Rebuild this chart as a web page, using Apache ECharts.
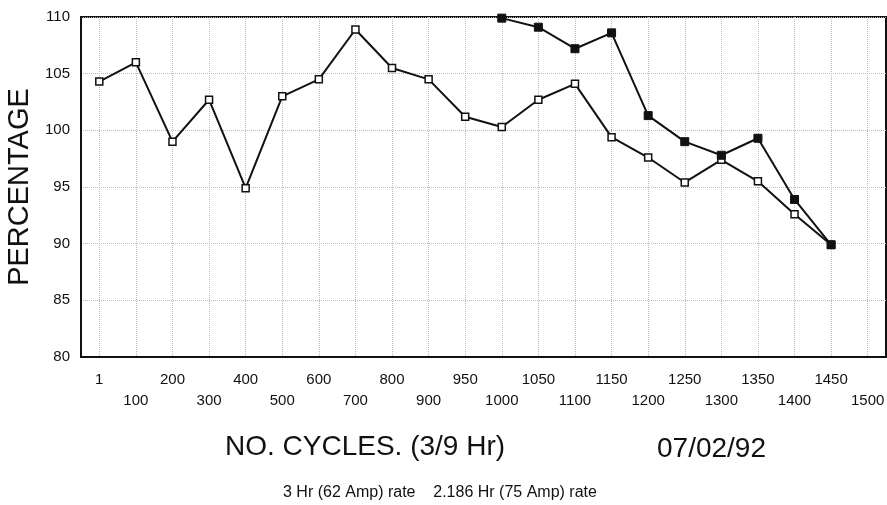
<!DOCTYPE html>
<html>
<head>
<meta charset="utf-8">
<script src="https://cdn.jsdelivr.net/npm/echarts@6/dist/echarts.min.js"></script>
<style>
html, body { margin: 0; padding: 0; background: #fff; }
#chart { width: 887px; height: 505px; }
</style>
</head>
<body>
<div id="chart"></div>
<script>
// cycles on the x axis (category labels)
var cycles = ['1','100','200','300','400','500','600','700','800','900','950',
	'1000','1050','1100','1150','1200','1250','1300','1350','1400','1450','1500'];
// 3 Hr (62 Amp) rate - open squares
var rate62 = [104.3, 106.0, 99.0, 102.7, 94.9, 103.0, 104.5, 108.9, 105.5, 104.5, 101.2,
	100.3, 102.7, 104.1, 99.4, 97.6, 95.4, 97.4, 95.5, 92.6, 89.9, null];
// 2.186 Hr (75 Amp) rate - filled squares
var rate75 = [null, null, null, null, null, null, null, null, null, null, null,
	109.9, 109.1, 107.2, 108.6, 101.3, 99.0, 97.8, 99.3, 93.9, 89.9, null];
var yTicks = [80, 85, 90, 95, 100, 105, 110];

var myChart = echarts.init(document.getElementById('chart'));
var font = '"Liberation Sans", Arial, sans-serif';

var option = {
	backgroundColor: '#fff',
	animation: false,
	grid: {
		left: 81, right: 1, top: 17, bottom: 148,
		outerBoundsMode: 'none',
		containLabel: false,
		show: true, borderColor: '#111', borderWidth: 2
	},
	xAxis: {
		type: 'category',
		data: cycles,
		boundaryGap: true,
		axisLine: { lineStyle: { color: '#111', width: 2 } },
		axisTick: { show: false },
		splitLine: { show: true, alignWithLabel: true, lineStyle: { color: '#bbb', type: 'dotted', width: 1 } },
		axisLabel: {
			interval: 0, margin: 12, color: '#111',
			fontFamily: font, fontSize: 15, lineHeight: 21,
			formatter: function(v, i) { return i % 2 ? '\n' + v : v; }
		}
	},
	yAxis: {
		type: 'value',
		min: yTicks[0], max: yTicks[yTicks.length - 1], interval: 5,
		name: 'PERCENTAGE',
		nameLocation: 'middle',
		nameGap: 41,
		nameTextStyle: { fontFamily: font, fontSize: 29, color: '#111' },
		axisLine: { show: true, lineStyle: { color: '#111', width: 2 } },
		axisTick: { show: false },
		splitLine: { lineStyle: { color: '#bbb', type: 'dotted', width: 1 } },
		axisLabel: { margin: 11, color: '#111', fontFamily: font, fontSize: 15 }
	},
	graphic: [
		{ type: 'text', x: 225, y: 447,
		  style: { text: 'NO. CYCLES. (3/9 Hr)', font: '28px ' + font, fill: '#111', verticalAlign: 'middle' } },
		{ type: 'text', x: 657, y: 449,
		  style: { text: '07/02/92', font: '28px ' + font, fill: '#111', verticalAlign: 'middle' } },
		{ type: 'text', x: 283, y: 493,
		  style: { text: '3 Hr (62 Amp) rate    2.186 Hr (75 Amp) rate', font: '16px ' + font, fill: '#111', verticalAlign: 'middle' } }
	],
	series: [
		{
			name: '3 Hr (62 Amp) rate',
			type: 'line',
			data: rate62,
			symbol: 'rect', symbolSize: 7,
			lineStyle: { color: '#111', width: 2 },
			itemStyle: { color: '#fff', borderColor: '#111', borderWidth: 1.5 }
		},
		{
			name: '2.186 Hr (75 Amp) rate',
			type: 'line',
			data: rate75,
			symbol: 'rect', symbolSize: 8,
			lineStyle: { color: '#111', width: 2 },
			itemStyle: { color: '#111', borderColor: '#111', borderWidth: 1 }
		}
	]
};
myChart.setOption(option);

window.addEventListener('resize', function() {
	myChart.resize();
});
</script>
</body>
</html>
